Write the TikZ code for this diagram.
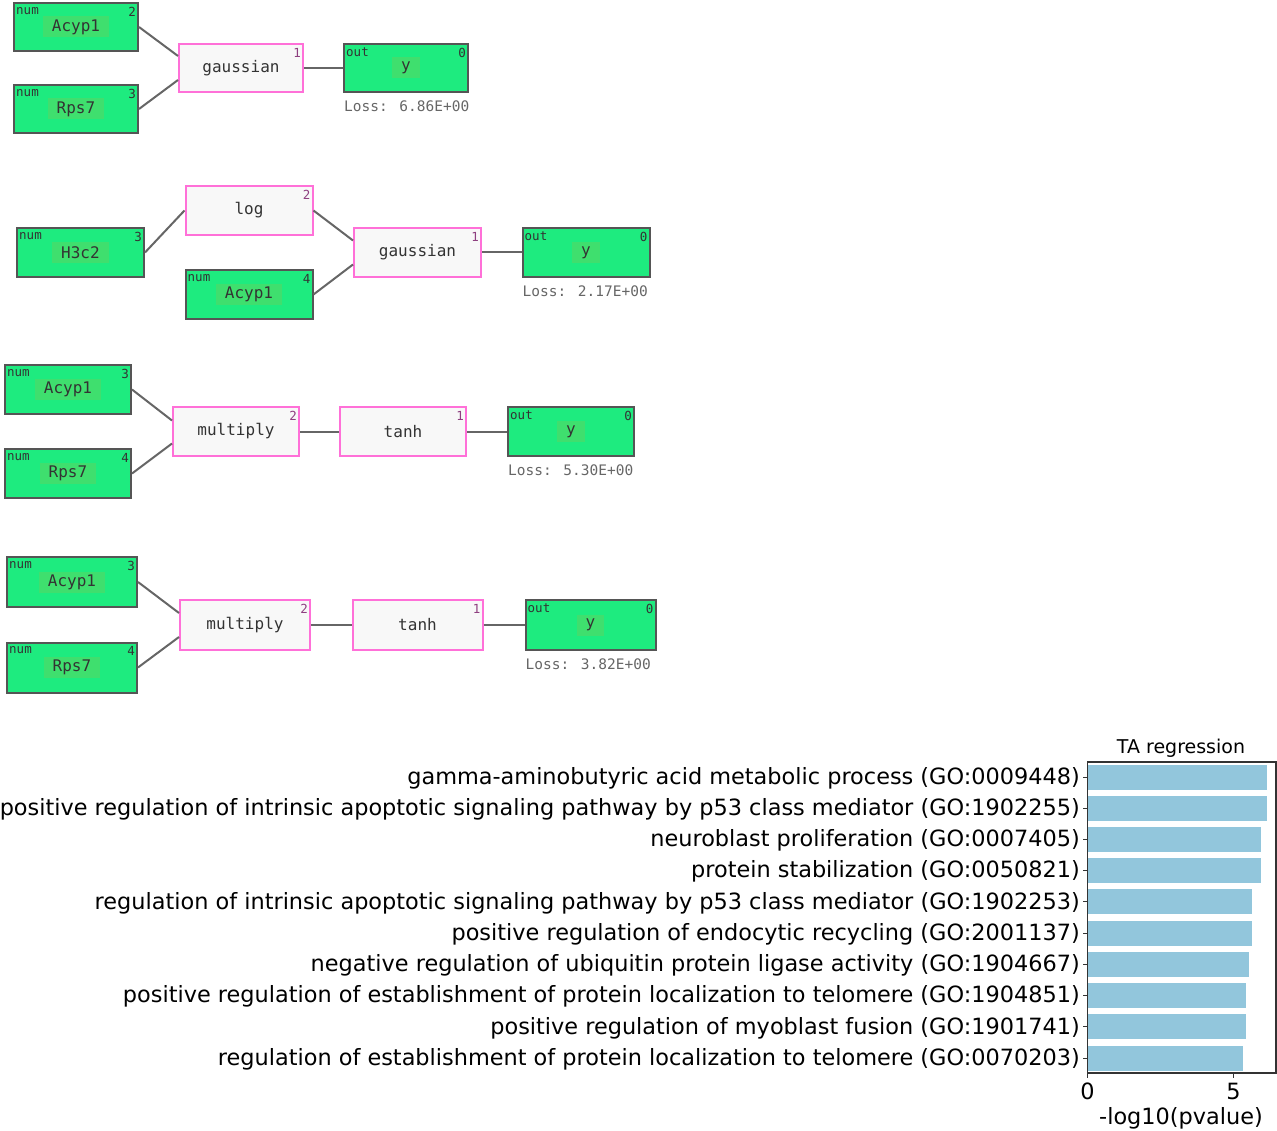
\documentclass[tikz,border=0pt]{standalone}
\usepackage{fontspec}
\usepackage{tikz}
\usetikzlibrary{positioning,calc}
\newfontfamily\chartfont{DejaVu Sans}
\newfontfamily\graphfont{DejaVu Sans Mono}
\definecolor{nodeGreen}{HTML}{1EEB7F}
\definecolor{hiGreen}{HTML}{3FDF6E}
\definecolor{boxGray}{HTML}{555555}
\definecolor{opPink}{HTML}{FF70D8}
\definecolor{opFill}{HTML}{F8F8F8}
\definecolor{linkGray}{HTML}{666666}
\definecolor{idxPurple}{HTML}{8E3F80}
\definecolor{barBlue}{HTML}{92C6DC}
\definecolor{spineGray}{HTML}{333333}

\tikzset{
  box/.style={minimum width=124pt, minimum height=48pt, inner sep=0pt},
  tagtext/.style={font=\graphfont\fontsize{12.5}{13}\selectfont, text=black!80, inner sep=0pt},
  hilite/.style={fill=hiGreen, inner xsep=9pt, inner ysep=0pt, minimum height=21pt, font=\graphfont\fontsize{16}{18}\selectfont, text=black!80},
  innode/.style 2 args={box, draw=boxGray, line width=2pt, fill=nodeGreen,
    label={[tagtext,anchor=north west,xshift=3pt,yshift=-5pt]north west:num},
    label={[tagtext,anchor=north east,xshift=-3pt,yshift=-5pt]north east:#1},
    label={[hilite]center:#2}},
  outnode/.style={box, draw=boxGray, line width=2pt, fill=nodeGreen,
    label={[tagtext,anchor=north west,xshift=3pt,yshift=-5pt]north west:out},
    label={[tagtext,anchor=north east,xshift=-3pt,yshift=-5pt]north east:0},
    label={[hilite]center:y}},
  opnode/.style={box, draw=opPink, line width=2pt, fill=opFill,
    font=\graphfont\fontsize{16}{18}\selectfont, text=black!80,
    label={[tagtext,text=idxPurple,anchor=north east,xshift=-3pt,yshift=-5pt]north east:#1}},
  losstext/.style={font=\graphfont\fontsize{14.5}{16}\selectfont, text=black!60, inner sep=0pt},
  link/.style={draw=linkGray, line width=2pt},
}

\begin{document}
\begin{tikzpicture}[x=1pt, y=-1pt]
    \useasboundingbox (0,0) rectangle (1277,1131);

    % graph 1
    \node[innode={2}{Acyp1}] (g1a) at (76,27) {};
    \node[innode={3}{Rps7}] (g1r) at (76,109) {};
    \node[opnode=1] (g1g) at (241,68) {gaussian};
    \node[outnode] (g1y) at (406,68) {};
    \node[losstext, below right=8pt and 1pt of g1y.south west] (g1l) {Loss: 6.86E+00};
    \draw[link] (g1a.east) -- ([yshift=12pt]g1g.west);
    \draw[link] (g1r.east) -- ([yshift=-12pt]g1g.west);
    \draw[link] (g1g) -- (g1y);

    % graph 2
    \begin{scope}[box/.append style={minimum width=127pt, minimum height=49pt}]
    \node[innode={3}{H3c2}] (g2h) at (80.5,252.5) {};
    \node[opnode=2] (g2lg) at (249,210.5) {log};
    \node[innode={4}{Acyp1}] (g2a) at (249,294.5) {};
    \node[opnode=1] (g2g) at (417.5,252.5) {gaussian};
    \node[outnode] (g2y) at (586,252.5) {};
    \node[losstext, below right=8pt and 1pt of g2y.south west] (g2l) {Loss: 2.17E+00};
    \draw[link] (g2h.east) -- (g2lg.west);
    \draw[link] (g2lg.east) -- ([yshift=12pt]g2g.west);
    \draw[link] (g2a.east) -- ([yshift=-12pt]g2g.west);
    \draw[link] (g2g) -- (g2y);
    \end{scope}

    % graph 3
    \begin{scope}[box/.append style={minimum width=126pt, minimum height=49pt}]
    \node[innode={3}{Acyp1}] (g3a) at (68,389.5) {};
    \node[innode={4}{Rps7}] (g3r) at (68,473.5) {};
    \node[opnode=2] (g3m) at (236,431.5) {multiply};
    \node[opnode=1] (g3t) at (403,431.5) {tanh};
    \node[outnode] (g3y) at (571,431.5) {};
    \node[losstext, below right=8pt and 1pt of g3y.south west] (g3l) {Loss: 5.30E+00};
    \draw[link] (g3a.east) -- ([yshift=11pt]g3m.west);
    \draw[link] (g3r.east) -- ([yshift=-12pt]g3m.west);
    \draw[link] (g3m) -- (g3t);
    \draw[link] (g3t) -- (g3y);
    \end{scope}

    % graph 4
    \begin{scope}[box/.append style={minimum width=130pt, minimum height=50pt}]
    \node[innode={3}{Acyp1}] (g4a) at (72,582) {};
    \node[innode={4}{Rps7}] (g4r) at (72,667.5) {};
    \node[opnode=2] (g4m) at (245,625) {multiply};
    \node[opnode=1] (g4t) at (417.5,625) {tanh};
    \node[outnode] (g4y) at (590.5,625) {};
    \node[losstext, below right=8pt and 1pt of g4y.south west] (g4l) {Loss: 3.82E+00};
    \draw[link] (g4a.east) -- ([yshift=12pt]g4m.west);
    \draw[link] (g4r.east) -- ([yshift=-12pt]g4m.west);
    \draw[link] (g4m) -- (g4t);
    \draw[link] (g4t) -- (g4y);
    \end{scope}

    % bar chart
    \begin{scope}[font=\chartfont\fontsize{22.4}{26}\selectfont]
    \foreach \val [count=\i from 0] in {6.14,6.14,5.93,5.93,5.65,5.65,5.53,5.42,5.42,5.31}
      \fill[barBlue] (1087.5,764.5+31.23*\i) rectangle ++(29.2*\val,25);
    \foreach \go [count=\i from 0] in {
        {gamma-aminobutyric acid metabolic process (GO:0009448)},
        {positive regulation of intrinsic apoptotic signaling pathway by p53 class mediator (GO:1902255)},
        {neuroblast proliferation (GO:0007405)},
        {protein stabilization (GO:0050821)},
        {regulation of intrinsic apoptotic signaling pathway by p53 class mediator (GO:1902253)},
        {positive regulation of endocytic recycling (GO:2001137)},
        {negative regulation of ubiquitin protein ligase activity (GO:1904667)},
        {positive regulation of establishment of protein localization to telomere (GO:1904851)},
        {positive regulation of myoblast fusion (GO:1901741)},
        {regulation of establishment of protein localization to telomere (GO:0070203)}} {
      \node[anchor=east, inner sep=0pt] (go\i) at (1080,778+31.23*\i) {\go};
      \draw[spineGray, line width=1pt] (1087.5,777+31.23*\i) -- ++(-5,0);
    }
    \draw[spineGray, line width=1.2pt] (1087.5,762) rectangle (1276,1073);
    \draw[spineGray, line width=1pt] (1087.5,1073) -- ++(0,5);
    \draw[spineGray, line width=1pt] (1233.5,1073) -- ++(0,5);
    \node[inner sep=0pt] (tick0) at (1087.5,1091) {0};
    \node[inner sep=0pt] (tick5) at (1233.5,1091) {5};
    \node[inner sep=0pt] (xlab) at (1181,1118) {-log10(pvalue)};
    \node[inner sep=0pt, font=\chartfont\fontsize{19}{22}\selectfont] (title) at (1181,748) {TA regression};
    \end{scope}
\end{tikzpicture}
\end{document}
